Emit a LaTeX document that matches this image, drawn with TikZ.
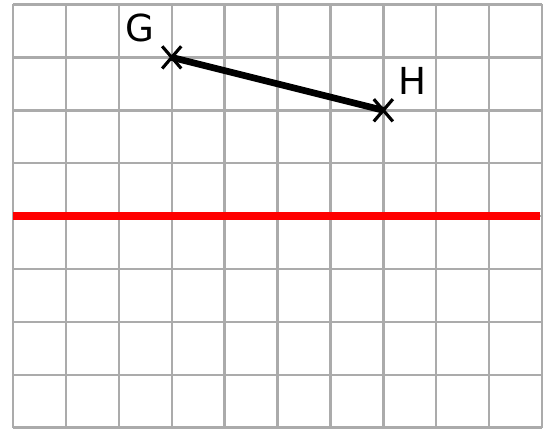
\documentclass[tikz,border=0pt]{standalone}
\usepackage{fontspec}
\setmainfont{DejaVu Sans}
\usetikzlibrary{calc}
\begin{document}
\begin{tikzpicture}[x=1cm,y=1cm,
  gridline/.style={draw=black!33, line width=1.3pt},
  redline/.style={draw=red, line width=4pt},
  segline/.style={draw=black, line width=3.6pt},
  crossmark/.style={draw=black, line width=1.7pt},
  lbl/.style={font=\fontsize{20}{24}\selectfont, inner sep=0pt}]
\useasboundingbox (-0.246,-0.025) rectangle (10.132,8.085);
\fill[white] (-0.246,-0.025) rectangle (10.132,8.085);
\draw[gridline] (0,0) grid (10,8);
\draw[redline] (0,4) -- (9.97,4);
\coordinate (G) at (3,7);
\coordinate (H) at (7,6);
\draw[segline] (G) -- (H);
\foreach \p in {G,H}{
  \draw[crossmark] ($(\p)+(-0.18,-0.21)$) -- ($(\p)+(0.18,0.21)$);
  \draw[crossmark] ($(\p)+(-0.18,0.21)$) -- ($(\p)+(0.18,-0.21)$);
}
\node[lbl] (gl) at (2.40,7.55) {G};
\node[lbl] (hl) at (7.55,6.55) {H};
\end{tikzpicture}
\end{document}
